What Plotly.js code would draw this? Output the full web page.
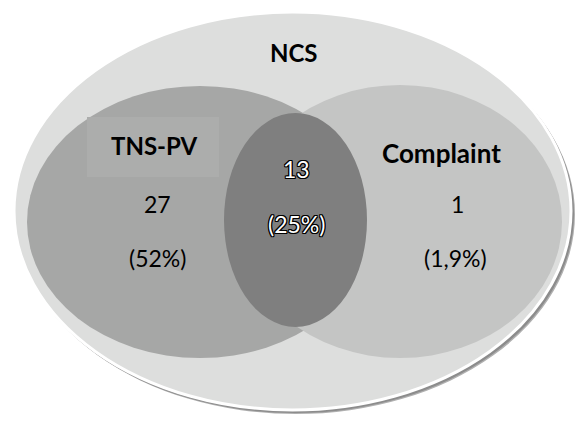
<!DOCTYPE html>
<html>
<head>
<meta charset="utf-8">
<script src="https://cdn.plot.ly/plotly-3.0.1.min.js"></script>
<style>html,body{margin:0;padding:0;background:#fff;}#chart{width:576px;height:421px;}</style>
</head>
<body>
<div id="chart"></div>
<script>
// ---- data ----
var setNames = ["NCS", "TNS-PV", "Complaint"];
var regionNames = ["TNS-PV only", "TNS-PV & Complaint", "Complaint only"];
var regionCounts = [27, 13, 1];
var regionPercents = ["(52%)", "(25%)", "(1,9%)"];

// ---- layout geometry (pixel-like data units on the axes) ----
var W = 576, H = 421;
var ellipses = {
  outer:   {x0: 14, x1: 571, y0: 12, y1: 410},
  left:    {x0: 27, x1: 373, y0: 86, y1: 358},
  right:   {x0: 238, x1: 562, y0: 85, y1: 358},
  inter:   {x0: 224, x1: 367, y0: 113, y1: 327}
};
var labelPos = {
  NCS: [294, 52], "TNS-PV": [154, 145], Complaint: [441, 153]
};
var labelSize = {NCS: 24, "TNS-PV": 24, Complaint: 26};
var countPos = [[157, 204], [296, 169], [457, 204]];
var pctPos = [[157, 258], [296, 224], [455, 258]];

function ell(e, fill, line, lw) {
  return {type: "circle", xref: "x", yref: "y", layer: "below",
    x0: e.x0, x1: e.x1, y0: e.y0, y1: e.y1,
    fillcolor: fill, line: {color: line || fill, width: lw || 0}};
}

var o = ellipses.outer;
var shapes = [
  ell({x0: o.x0 + 2, x1: o.x1 + 4, y0: o.y0 + 3, y1: o.y1 + 4}, "#b0b0b0", "#b0b0b0", 0),
  ell({x0: o.x0 + 1, x1: o.x1 + 3, y0: o.y0 + 2, y1: o.y1 + 3}, "#8c8c8c", "#8c8c8c", 0),
  ell(o, "#dddedd", "#ffffff", 3),
  ell(ellipses.left, "#a6a7a6"),
  ell(ellipses.right, "#c4c5c4"),
  {type: "rect", xref: "x", yref: "y", layer: "below", x0: 87, x1: 219, y0: 117, y1: 177,
   fillcolor: "#acadac", line: {width: 0}},
  ell(ellipses.inter, "#7f7f7f")
];

var font = "Lato, 'Open Sans', sans-serif";
var annotations = [];
setNames.forEach(function (n) {
  var p = labelPos[n];
  annotations.push({x: p[0], y: p[1], xref: "x", yref: "y", text: "<b>" + n + "</b>",
    showarrow: false, xanchor: "center", yanchor: "middle",
    font: {family: font, size: labelSize[n], color: "#000"}});
});
var outline = "1px 1px 0 #000, -1px -1px 0 #000, 1px -1px 0 #000, -1px 1px 0 #000, 0 1px 0 #000, 0 -1px 0 #000, 1px 0 0 #000, -1px 0 0 #000";
regionCounts.forEach(function (c, i) {
  var inter = (i === 1);
  var f = {family: font, size: 23, color: inter ? "#fff" : "#000"};
  if (inter) f.shadow = outline;
  annotations.push({x: countPos[i][0], y: countPos[i][1], xref: "x", yref: "y", text: String(c),
    showarrow: false, xanchor: "center", yanchor: "middle", font: f});
  var f2 = {family: font, size: 23, color: inter ? "#fff" : "#000"};
  if (inter) f2.shadow = outline;
  annotations.push({x: pctPos[i][0], y: pctPos[i][1], xref: "x", yref: "y", text: regionPercents[i],
    showarrow: false, xanchor: "center", yanchor: "middle", font: f2});
});

var layout = {
  width: W, height: H,
  margin: {l: 0, r: 0, t: 0, b: 0, pad: 0},
  paper_bgcolor: "#ffffff", plot_bgcolor: "#ffffff",
  xaxis: {range: [0, W], visible: false, fixedrange: true},
  yaxis: {range: [H, 0], visible: false, fixedrange: true},
  shapes: shapes,
  annotations: annotations,
  showlegend: false
};
var trace = {x: [0, W], y: [0, H], mode: "markers", marker: {opacity: 0}, hoverinfo: "skip", name: regionNames.join(", ")};
Plotly.newPlot("chart", [trace], layout, {staticPlot: true, displayModeBar: false});
</script>
</body>
</html>
